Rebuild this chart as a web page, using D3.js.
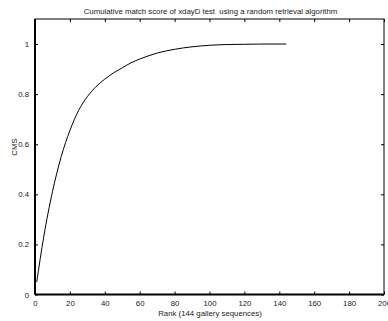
<!DOCTYPE html>
<html><head><meta charset="utf-8">
<script src="https://cdn.jsdelivr.net/npm/d3@7/dist/d3.min.js"></script>
<style>body{margin:0;background:#fff}svg{display:block}text{font-family:"Liberation Sans",Arial,sans-serif;fill:#222;white-space:pre}</style>
</head><body><svg id="c" width="388" height="321"></svg>
<script>
const ranks = [1, 5, 10, 15, 20, 25, 30, 35, 40, 45, 50, 55, 60, 65, 70, 80, 90, 100, 110, 120, 130, 144];
const cms   = [0.05, 0.23, 0.41, 0.55, 0.655, 0.735, 0.79, 0.83, 0.86, 0.885, 0.905, 0.925, 0.94, 0.953, 0.964, 0.979, 0.989, 0.995, 0.998, 0.999, 1.0, 1.0];
const xTicks = [0, 20, 40, 60, 80, 100, 120, 140, 160, 180, 200];
const yTicks = [0, 0.2, 0.4, 0.6, 0.8, 1];
const title = "Cumulative match score of xdayD test  using a random retrieval algorithm";
const xLabel = "Rank (144 gallery sequences)";
const yLabel = "CMS";

const L = 35, R = 384, T = 19, B = 294.5;
const svg = d3.select("#c");
const x = d3.scaleLinear().domain([0, 200]).range([L, R]);
const y = d3.scaleLinear().domain([0, 1.1]).range([B, T]);

// frame
svg.append("rect").attr("x", L).attr("y", T).attr("width", R - L).attr("height", B - T)
  .attr("fill", "none").attr("stroke", "#000").attr("stroke-width", 1);
svg.append("line").attr("x1", L).attr("x2", L).attr("y1", T).attr("y2", B).attr("stroke", "#000").attr("stroke-width", 2);
svg.append("line").attr("x1", L).attr("x2", R).attr("y1", B).attr("y2", B).attr("stroke", "#000").attr("stroke-width", 2);

const fs = 7.8;
const xb = svg.append("g").attr("transform", `translate(0,${B})`)
  .call(d3.axisBottom(x).tickValues(xTicks).tickSizeInner(-3).tickSizeOuter(0).tickPadding(7).tickFormat(d3.format("d")));
const xt = svg.append("g").attr("transform", `translate(0,${T})`)
  .call(d3.axisTop(x).tickValues(xTicks).tickSizeInner(-3).tickSizeOuter(0).tickFormat(""));
const yl = svg.append("g").attr("transform", `translate(${L},0)`)
  .call(d3.axisLeft(y).tickValues(yTicks).tickSizeInner(-3).tickSizeOuter(0).tickPadding(6).tickFormat(d => d === 0 ? "0" : (d === 1 ? "1" : d3.format(".1f")(d))));
const yr = svg.append("g").attr("transform", `translate(${R},0)`)
  .call(d3.axisRight(y).tickValues(yTicks).tickSizeInner(-3).tickSizeOuter(0).tickFormat(""));
[xb, xt, yl, yr].forEach(g => {
  g.select(".domain").remove();
  g.selectAll("line").attr("stroke", "#000");
  g.selectAll("text").attr("font-size", fs).attr("fill", "#222")
    .style("font-family", '"Liberation Sans",Arial,sans-serif');
});
xb.selectAll(".tick text").attr("dy", "0.6em");

const line = d3.line().x((d, i) => x(ranks[i])).y(d => y(d)).curve(d3.curveMonotoneX);
svg.append("path").attr("d", line(cms)).attr("fill", "none").attr("stroke", "#000").attr("stroke-width", 1);

svg.append("text").attr("x", 210.5).attr("y", 14).attr("text-anchor", "middle").attr("font-size", fs).text(title);
svg.append("text").attr("x", 210).attr("y", 316).attr("text-anchor", "middle").attr("font-size", fs).text(xLabel);
svg.append("text").attr("transform", "translate(17,147) rotate(-90)").attr("text-anchor", "middle").attr("font-size", fs).text(yLabel);
</script></body></html>
